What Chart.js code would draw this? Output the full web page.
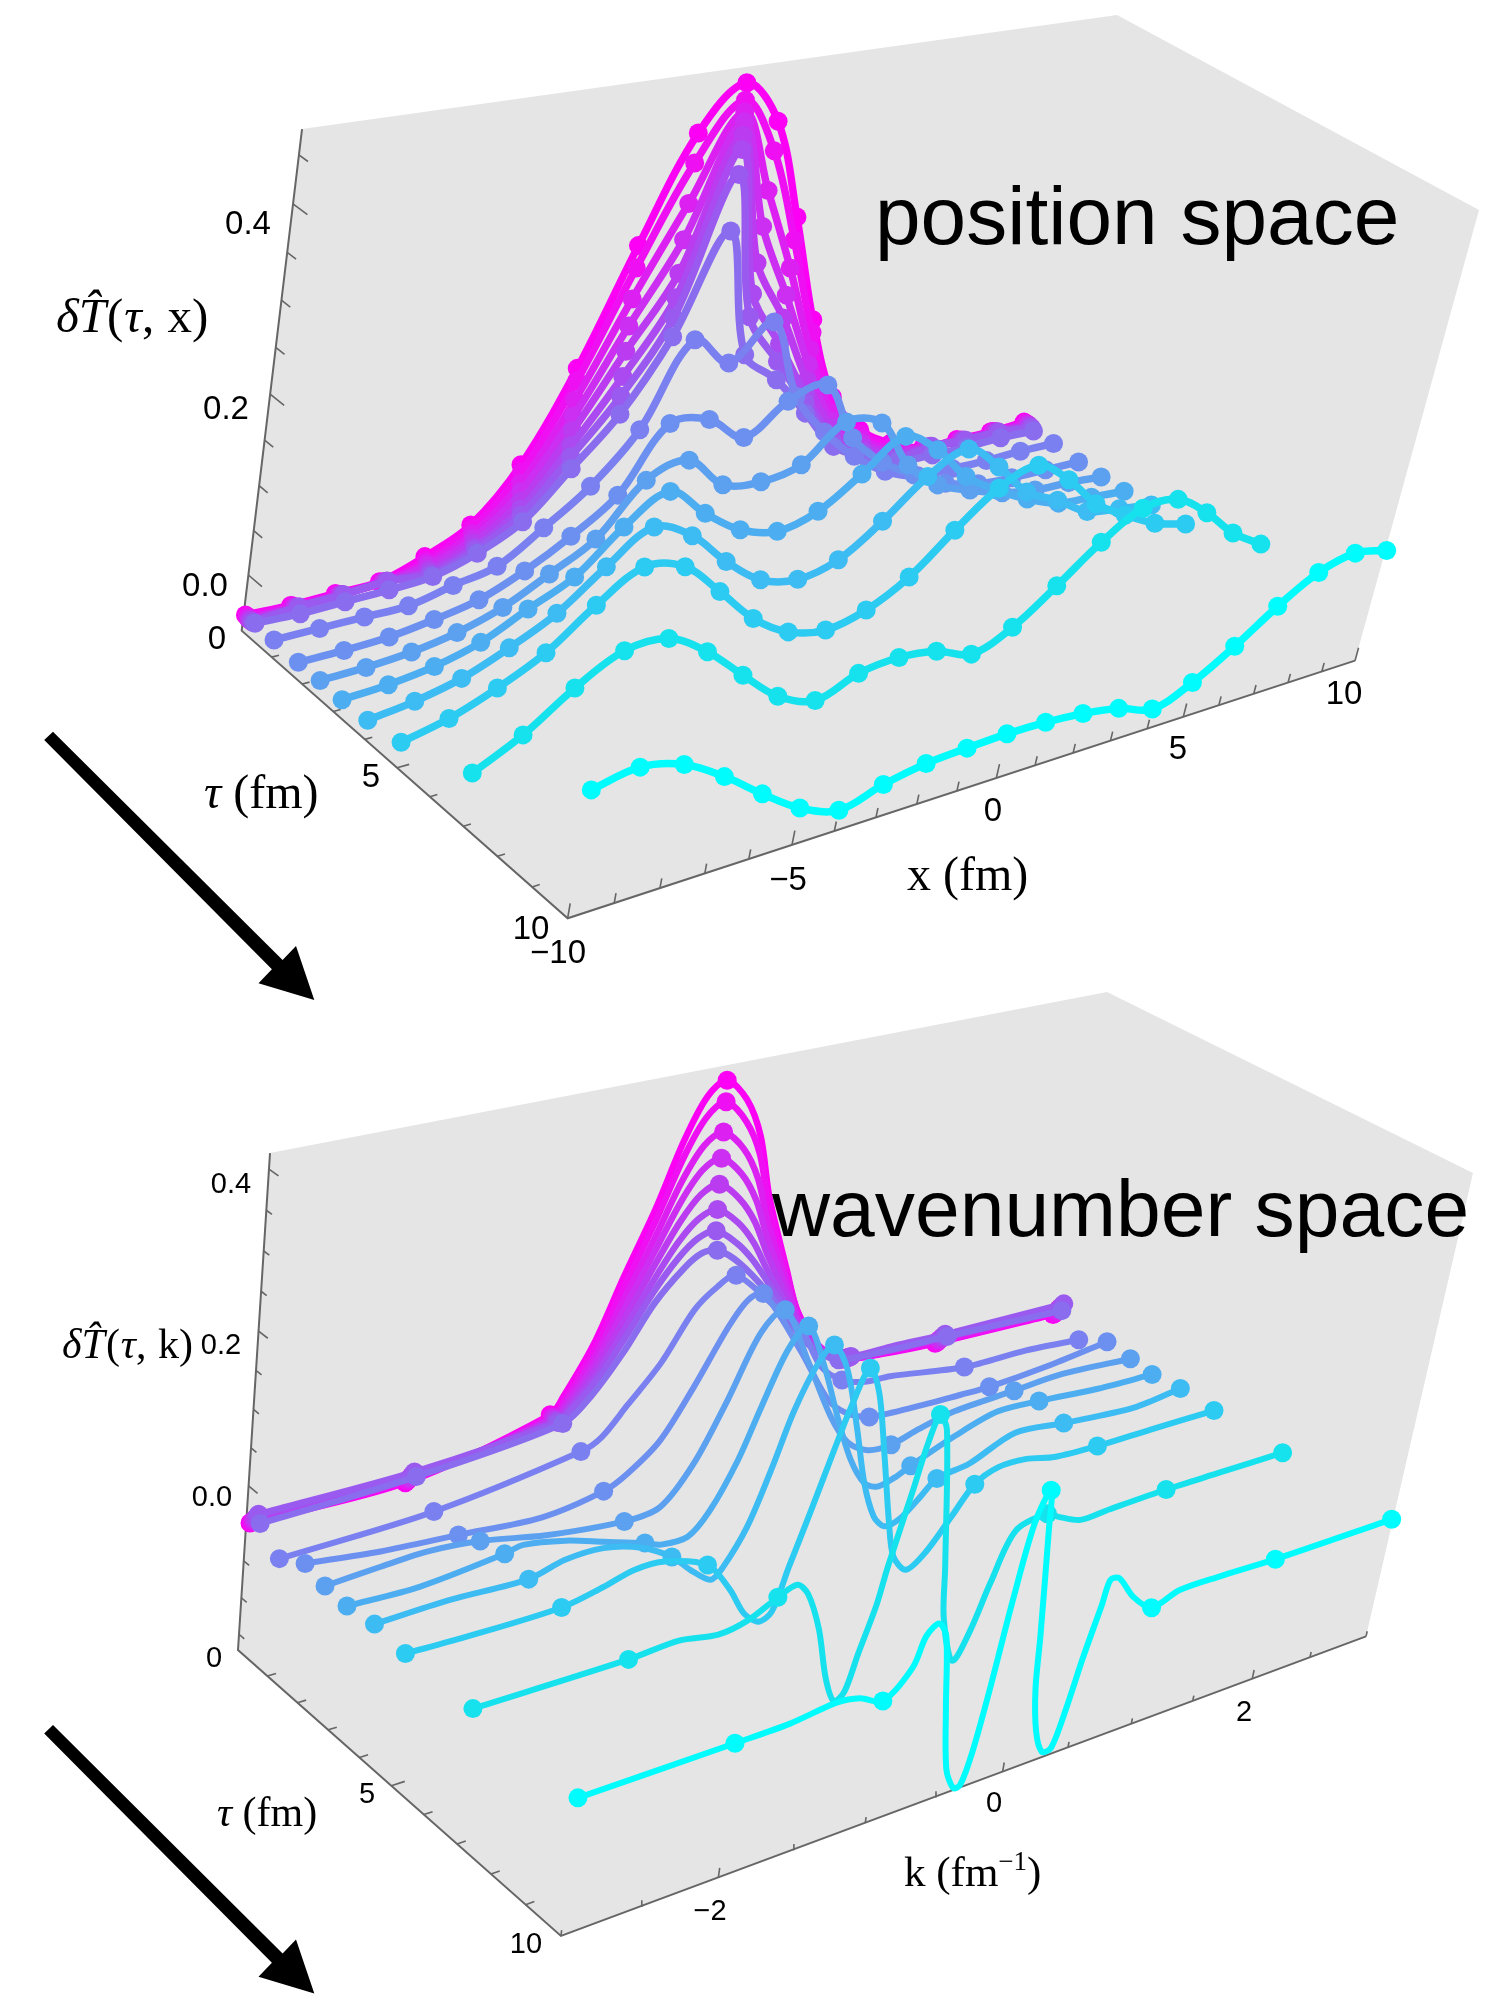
<!DOCTYPE html>
<html>
<head>
<meta charset="utf-8">
<title>position space / wavenumber space</title>
<script src="https://cdn.jsdelivr.net/npm/chart.js@4"></script>
<style>
  html, body { margin: 0; background: #fff; }
  canvas { position: absolute; left: 0; }
</style>
</head>
<body>
<canvas id="posChart" width="1501" height="1006" style="top:0"></canvas>
<canvas id="wavChart" width="1501" height="1008" style="top:986px"></canvas>
<script>
// ---- Data: delta T(tau, x) ----
const tauValues = [0.05, 0.1, 0.14, 0.18, 0.22, 0.26, 0.3, 0.37, 1, 1.8, 2.5, 3.2, 4, 5, 7, 10];
const xGrid = [-10, -9, -8, -7, -6, -5, -4, -3, -2, -1, 0, 1, 2, 3, 4, 5, 6, 7, 8, 9, 10];

const posT0 = [-.044, -.046, -.045, -.044, -.027, -.002, .057, .158, .288, .405, .453, .403, .286, .156, .052, -.000, -.028, -.045, -.045, -.046, -.044];
const posT1 = [-.044, -.045, -.045, -.044, -.030, -.005, .050, .145, .264, .373, .435, .371, .261, .142, .046, -.004, -.029, -.043, -.045, -.044, -.044];
const posT2 = [-.045, -.045, -.044, -.042, -.032, -.010, .038, .124, .230, .329, .423, .327, .229, .122, .034, -.009, -.033, -.042, -.044, -.043, -.044];
const posT3 = [-.045, -.044, -.043, -.040, -.034, -.014, .029, .106, .200, .289, .413, .287, .198, .105, .025, -.013, -.035, -.040, -.042, -.043, -.044];
const posT4 = [-.045, -.043, -.041, -.039, -.037, -.018, .019, .090, .172, .252, .399, .246, .172, .087, .018, -.017, -.037, -.039, -.042, -.041, -.044];
const posT5 = [-.045, -.042, -.040, -.037, -.039, -.022, .011, .074, .144, .225, .384, .211, .142, .071, .009, -.021, -.040, -.037, -.040, -.040, -.045];
const posT6 = [-.045, -.040, -.039, -.036, -.041, -.024, .005, .062, .122, .203, .357, .185, .122, .062, .004, -.024, -.041, -.036, -.039, -.040, -.045];
const posT7 = [-.044, -.046, -.045, -.044, -.041, -.026, -.001, .050, .103, .183, .295, .142, .102, .051, -.001, -.025, -.042, -.045, -.046, -.045, -.047];
const posT8 = [-.044, -.044, -.044, -.044, -.033, -.023, .010, .047, .102, .196, .159, .197, .099, .045, .004, -.026, -.043, -.045, -.046, -.045, -.046];
const posT9 = [-.045, -.045, -.043, -.036, -.026, -.005, .023, .059, .131, .125, .093, .125, .134, .060, .019, -.008, -.030, -.042, -.046, -.047, -.048];
const posT10 = [-.044, -.043, -.039, -.030, -.014, .012, .040, .096, .108, .068, .060, .069, .109, .097, .035, -.001, -.019, -.034, -.042, -.044, -.048];
const posT11 = [-.044, -.041, -.034, -.020, .005, .029, .074, .103, .066, .035, .021, .033, .066, .100, .073, .029, .001, -.022, -.039, -.043, -.047];
const posT12 = [-.042, -.035, -.023, -.002, .024, .064, .097, .075, .033, -.001, -.013, -.002, .032, .074, .096, .063, .021, -.001, -.027, -.035, -.042];
const posT13 = [-.035, -.023, -.003, .023, .063, .093, .081, .040, -.004, -.033, -.044, -.033, -.006, .038, .077, .093, .064, .023, -.003, -.025, -.038];
const posT14 = [-.005, .022, .059, .086, .086, .058, .018, -.020, -.039, -.021, -.016, -.022, -.039, -.020, .017, .057, .086, .085, .057, .020, -.006];
const posT15 = [.074, .083, .071, .043, .009, -.022, -.040, -.026, -.017, -.014, -.012, -.013, -.017, -.025, -.040, -.022, .008, .043, .071, .082, .073];

// ---- Data: delta T(tau, k) ----
const wavK0 = [-2.99, -1.99, -1.02, -.94, -.76, -.60, -.43, -.28, -.15, -.02, .15, .29, .42, .64, .77, .98, 1.20, 1.55, 1.98, 3.01];
const wavT0 = [-.048, -.049, -.006, .015, .080, .164, .247, .334, .387, .404, .372, .318, .231, .119, .056, -.004, -.035, -.044, -.049, -.053];
const wavT1 = [-.045, -.045, -.007, .013, .075, .153, .233, .313, .361, .377, .345, .295, .215, .111, .052, -.005, -.034, -.041, -.046, -.049];
const wavT2 = [-.042, -.041, -.007, .011, .067, .138, .212, .283, .325, .338, .309, .263, .194, .100, .046, -.006, -.032, -.038, -.042, -.045];
const wavT3 = [-.039, -.038, -.007, .008, .060, .125, .194, .256, .293, .304, .276, .234, .175, .090, .041, -.007, -.030, -.035, -.039, -.041];
const wavT4 = [-.036, -.034, -.008, .006, .053, .112, .176, .229, .261, .270, .243, .206, .156, .080, .035, -.008, -.028, -.032, -.035, -.037];
const wavT5 = [-.032, -.030, -.008, .004, .046, .099, .158, .204, .230, .237, .212, .179, .137, .070, .030, -.009, -.026, -.029, -.032, -.033];
const wavT6 = [-.028, -.026, -.009, .002, .040, .088, .143, .182, .204, .209, .185, .156, .122, .062, .026, -.009, -.024, -.025, -.028, -.029];
const wavK7 = [-2.99, -1.99, -1.00, -.82, -.62, -.43, -.24, -.12, -.01, .17, .43, .74, .90, 1.08, 1.51, 1.98, 2.98];
const wavT7 = [-.038, -.030, -.009, .019, .070, .130, .170, .185, .184, .159, .105, .029, -.001, -.021, -.027, -.029, -.036];
const wavK8 = [-2.98, -1.99, -1.00, -.86, -.70, -.49, -.29, -.14, -.01, .29, .56, .76, .95, 1.14, 1.35, 1.98, 2.51, 2.98];
const wavT8 = [-.064, -.057, -.028, -.015, .021, .069, .133, .158, .168, .116, .066, .004, -.025, -.037, -.039, -.056, -.056, -.062];
const wavK9 = [-2.98, -2.50, -1.99, -1.42, -1.00, -.84, -.63, -.43, -.23, -.11, -.00, .35, .63, .80, .99, 1.33, 1.74, 1.98, 2.50, 2.98];
const wavT9 = [-.043, -.055, -.062, -.070, -.057, -.041, -.006, .058, .131, .162, .166, .071, -.013, -.041, -.056, -.060, -.061, -.061, -.053, -.041];
const wavK10 = [-2.99, -2.64, -2.35, -2.00, -1.55, -1.00, -.75, -.54, -.35, -.17, -.01, .22, .47, .64, .81, 1.00, 1.21, 1.49, 1.98, 2.38, 2.99];
const wavT10 = [-.048, -.043, -.040, -.046, -.064, -.076, -.070, -.020, .058, .141, .165, .085, -.007, -.053, -.073, -.075, -.063, -.051, -.045, -.040, -.046];
const wavK11 = [-2.99, -2.53, -1.99, -1.87, -1.58, -1.31, -1.01, -.89, -.70, -.56, -.40, -.28, -.14, -.01, .16, .33, .48, .62, .73, .86, .98, 1.31, 1.64, 1.99, 2.50, 2.98];
const wavT11 = [-.050, -.052, -.040, -.035, -.046, -.063, -.082, -.091, -.091, -.062, -.000, .067, .138, .164, .100, .018, -.047, -.088, -.099, -.093, -.082, -.056, -.037, -.039, -.046, -.048];
const wavK12 = [-2.98, -2.51, -2.00, -1.77, -1.51, -1.24, -1.01, -.86, -.70, -.62, -.48, -.36, -.25, -.12, -.02, .11, .26, .38, .50, .60, .72, .86, .97, 1.22, 1.57, 1.98, 2.59, 2.99];
const wavT12 = [-.046, -.043, -.046, -.034, -.033, -.048, -.074, -.101, -.124, -.111, -.062, .010, .086, .144, .163, .123, .032, -.048, -.103, -.123, -.118, -.094, -.074, -.066, -.039, -.046, -.054, -.045];
const wavK13 = [-2.99, -2.62, -2.00, -1.73, -1.53, -1.32, -1.01, -.82, -.69, -.57, -.48, -.40, -.30, -.19, -.11, -.01, .09, .21, .33, .41, .53, .67, .83, .98, 1.15, 1.38, 1.62, 1.98, 2.44, 2.99];
const wavT13 = [-.048, -.050, -.049, -.038, -.027, -.028, -.051, -.096, -.137, -.156, -.147, -.089, -.020, .060, .115, .162, .123, .030, -.069, -.122, -.148, -.130, -.089, -.050, -.035, -.035, -.045, -.048, -.047, -.047];
const wavK14 = [-2.99, -2.01, -1.68, -1.41, -1.21, -1.02, -.89, -.80, -.68, -.57, -.48, -.41, -.35, -.27, -.23, -.13, -.08, -.02, .05, .22, .28, .41, .51, .61, .74, .98, 1.08, 1.27, 1.50, 1.97, 2.43, 2.98];
const wavT14 = [-.046, -.046, -.042, -.051, -.044, -.025, -.016, -.034, -.089, -.164, -.202, -.193, -.143, -.081, -.030, .072, .126, .163, .139, -.057, -.133, -.202, -.167, -.103, -.037, -.026, -.036, -.051, -.049, -.046, -.046, -.046];
const wavK15 = [-3.00, -2.02, -1.66, -1.35, -1.19, -1.02, -.84, -.78, -.70, -.63, -.54, -.45, -.37, -.32, -.27, -.22, -.17, -.11, -.03, .01, .10, .14, .21, .29, .36, .42, .48, .55, .58, .65, .80, .97, 1.18, 1.50, 1.97, 2.98];
const wavT15 = [-.045, -.044, -.043, -.036, -.041, -.056, -.023, .014, .026, .005, -.094, -.187, -.219, -.218, -.175, -.087, .024, .122, .161, .106, -.041, -.115, -.179, -.214, -.213, -.163, -.093, -.025, .007, .005, -.030, -.055, -.043, -.043, -.046, -.046];

// which samples of each wavenumber curve carry a dot (the integer k)
const dotsBundle = [0, 1, 2, 9, 16, 18, 19];
const dotsK7 = [0, 1, 2, 8, 13, 15, 16];
const dotsK8 = [0, 1, 2, 8, 12, 15, 17];
const dotsK9 = [0, 2, 4, 10, 14, 17, 19];
const dotsK10 = [0, 3, 5, 10, 15, 18, 20];
const dotsK11 = [0, 2, 6, 13, 20, 23, 25];
const dotsK12 = [0, 2, 6, 14, 22, 25, 27];
const dotsK13 = [0, 2, 6, 15, 23, 27, 29];
const dotsK14 = [0, 1, 5, 17, 25, 29, 31];
const dotsK15 = [0, 1, 5, 18, 31, 34, 35];

const curveColors = ['#fb00f5', '#ee10f3', '#dc20f2', '#cc2ef2', '#bb3cf0', '#aa4af0', '#9a5af0', '#8a6cee',
  '#7a80f0', '#6c90f0', '#5ca0f0', '#4caef0', '#3cbcf2', '#2ccbf2', '#16e2ee', '#00fcfc'];

const posCurves = [posT0, posT1, posT2, posT3, posT4, posT5, posT6, posT7, posT8, posT9, posT10, posT11, posT12, posT13, posT14, posT15];
const wavCurves = [
  [wavK0, wavT0, dotsBundle], [wavK0, wavT1, dotsBundle], [wavK0, wavT2, dotsBundle], [wavK0, wavT3, dotsBundle],
  [wavK0, wavT4, dotsBundle], [wavK0, wavT5, dotsBundle], [wavK0, wavT6, dotsBundle], [wavK7, wavT7, dotsK7],
  [wavK8, wavT8, dotsK8], [wavK9, wavT9, dotsK9], [wavK10, wavT10, dotsK10], [wavK11, wavT11, dotsK11],
  [wavK12, wavT12, dotsK12], [wavK13, wavT13, dotsK13], [wavK14, wavT14, dotsK14], [wavK15, wavT15, dotsK15]
];

// ---- 3D box -> page, homogeneous projection of each panel ----
const posBox = {
  o: [241.7, 630.7, 1], ex: [958.6, -117.2, .1779], ey: [275.6, 206.1, -.0887], ez: [40.76, -510, -.0648],
  w0: .1178, ws: 1.853, hMin: -10, hSpan: 20, lean: 5.5
};
const wavBox = {
  o: [238, 1650, 1], ex: [993.5, 47.4, .1945], ey: [269.1, 100.1, -.096], ez: [13.48, -576, -.0686],
  w0: .346, ws: 1.56, hMin: -3, hSpan: 6, lean: 2.5
};

function project(box, u, v, w, lean = 0) {
  const c = i => box.o[i] + u * box.ex[i] + v * box.ey[i] + w * box.ez[i];
  return { x: (c(0) + lean * w) / c(2), y: c(1) / c(2) };
}
function place(box, h, tau, T) {
  return project(box, (h - box.hMin) / box.hSpan, tau / 10, box.w0 + box.ws * T, box.lean);
}

// frame and ticks of one panel, as gray line datasets
function frameDatasets(box, tTicks, tMajor, hTicks, hMajor, len) {
  const gap = { x: null, y: null };
  const ticks = [];
  tTicks.forEach(T => {
    const w = box.w0 + box.ws * T;
    ticks.push(project(box, 0, 0, w), project(box, 0, tMajor.includes(T) ? len.tBig : len.t, w), gap);
  });
  for (let t = 1; t < 10; t++) {
    ticks.push(project(box, 0, t / 10, 0), project(box, t === 5 ? len.tauBig : len.tau, t / 10, 0), gap);
  }
  hTicks.forEach(h => {
    const u = (h - box.hMin) / box.hSpan;
    ticks.push(project(box, u, 1, 0), project(box, u, 1, hMajor.includes(h) ? len.hBig : len.h), gap);
  });
  const base = { type: 'scatter', showLine: true, borderColor: '#666', pointRadius: 0, tension: 0, clip: false, order: 200 };
  return [
    { ...base, borderWidth: 2, data: [project(box, 0, 0, 1), project(box, 0, 0, 0), project(box, 0, 1, 0), project(box, 1, 1, 0)] },
    { ...base, borderWidth: 1.6, spanGaps: false, data: ticks }
  ];
}

function drawRuns(ctx, x, y, runs) {
  ctx.textAlign = 'left';
  ctx.textBaseline = 'alphabetic';
  runs.forEach(r => {
    ctx.font = r.font;
    ctx.fillText(r.text, x, y + (r.dy || 0));
    x += ctx.measureText(r.text).width + (r.gap || 0);
  });
}

function sideLabel(ctx, x, y, size, last) {
  const it = `italic ${size}px "Liberation Serif"`, up = `${size}px "Liberation Serif"`;
  drawRuns(ctx, x, y, [
    { text: 'δ', font: it }, { text: 'T\u0302', font: it, gap: 1 }, { text: '(', font: up, gap: 1 },
    { text: 'τ', font: it }, { text: ', ', font: up, gap: 1 }, { text: last + ')', font: up }
  ]);
}

function tauLabel(ctx, x, y, size) {
  drawRuns(ctx, x, y, [
    { text: 'τ', font: `italic ${size}px "Liberation Serif"` },
    { text: ' (fm)', font: `${size}px "Liberation Serif"` }
  ]);
}

// overlay: gray wall, arrow, all the text
function panelPlugin(wall, arrowDy, drawText) {
  return {
    id: 'panel',
    beforeDatasetsDraw(chart) {
      const ctx = chart.ctx, sx = chart.scales.x, sy = chart.scales.y;
      const path = pts => {
        ctx.beginPath();
        pts.forEach((p, i) => ctx[i ? 'lineTo' : 'moveTo'](sx.getPixelForValue(p[0]), sy.getPixelForValue(p[1])));
        ctx.closePath();
      };
      ctx.save();
      ctx.fillStyle = '#e5e5e5';
      path(wall);
      ctx.fill();
      ctx.fillStyle = '#000';
      path([[53, 731.7], [282.6, 960], [296, 946], [314.3, 1000], [258.5, 983.3], [271.9, 969.3], [44.2, 740]]
        .map(p => [p[0], p[1] + arrowDy]));
      ctx.fill();
      ctx.restore();
    },
    afterDatasetsDraw(chart) {
      const ctx = chart.ctx, top = chart.scales.y.min;
      ctx.save();
      ctx.translate(0, -top);
      ctx.fillStyle = '#000';
      drawText(ctx);
      ctx.restore();
    }
  };
}

function tickText(ctx, size, items) {
  ctx.font = `${size}px "Liberation Sans"`;
  ctx.textAlign = 'center';
  ctx.textBaseline = 'middle';
  items.forEach(t => ctx.fillText(t[0], t[1], t[2]));
}

function curveDatasets(box, tension, width, radius, rows) {
  return rows.map((r, i) => ({
    type: 'scatter',
    showLine: true,
    data: r.h.map((h, j) => place(box, h, tauValues[i], r.T[j])),
    borderColor: curveColors[i],
    backgroundColor: curveColors[i],
    borderWidth: width(i),
    borderCapStyle: 'round',
    borderJoinStyle: 'round',
    pointBorderWidth: 0,
    pointRadius: r.dots ? r.h.map((_, j) => (r.dots.includes(j) ? radius : 0)) : radius,
    tension,
    clip: false,
    order: 100 - i
  }));
}

function buildChart(id, top, height, datasets, plugin) {
  return new Chart(document.getElementById(id), {
    type: 'scatter',
    data: { datasets },
    plugins: [plugin],
    options: {
      responsive: false,
      animation: false,
      layout: { padding: 0, autoPadding: false },
      events: [],
      plugins: { legend: { display: false }, tooltip: { enabled: false } },
      scales: {
        x: { type: 'linear', min: 0, max: 1501, display: false },
        y: { type: 'linear', min: top, max: top + height, reverse: true, display: false }
      }
    }
  });
}

// ---- Position space ----
const posTTicks = [-.05, 0, .05, .1, .15, .2, .25, .3, .35, .4, .45];
buildChart('posChart', 0, 1006, [
  ...frameDatasets(posBox, posTTicks, [0, .2, .4], xGrid, [-10, -5, 0, 5, 10],
    { t: .028, tBig: .045, tau: .008, tauBig: .013, h: .02, hBig: .03 }),
  ...curveDatasets(posBox, .35, () => 7.5, 9.5, posCurves.map(T => ({ h: xGrid, T })))
], panelPlugin([[302, 129], [1117, 15], [1479, 210], [1355, 660.7], [567.7, 918.3], [241.7, 630.7]], 0, ctx => {
  tickText(ctx, 33, [['0.4', 248, 225], ['0.2', 226, 410], ['0.0', 205, 587], ['0', 217, 640], ['5', 371, 778], ['10', 531, 930],
    ['\u221210', 558, 954], ['\u22125', 788, 881], ['0', 993, 812], ['5', 1178, 750], ['10', 1344, 695]]);
  ctx.font = '82px "Liberation Sans"';
  ctx.textAlign = 'left';
  ctx.textBaseline = 'alphabetic';
  ctx.fillText('position space', 875, 244);
  sideLabel(ctx, 56, 332, 49, 'x');
  tauLabel(ctx, 204, 808, 48);
  drawRuns(ctx, 907, 890, [{ text: 'x (fm)', font: '48px "Liberation Serif"' }]);
}));

// ---- Wavenumber space ----
const wavTTicks = [-.2, -.15, -.1, -.05, 0, .05, .1, .15, .2, .25, .3, .35, .4];
const wavHTicks = [-3, -2.5, -2, -1.5, -1, -.5, 0, .5, 1, 1.5, 2, 2.5, 3];
buildChart('wavChart', 986, 1008, [
  ...frameDatasets(wavBox, wavTTicks, [0, .2, .4], wavHTicks, [-2, 0, 2],
    { t: .018, tBig: .03, tau: .009, tauBig: .014, h: .012, hBig: .02 }),
  ...curveDatasets(wavBox, .3, i => (i < 8 ? 6.5 : 6), 9.5, wavCurves.map(r => ({ h: r[0], T: r[1], dots: r[2] })))
], panelPlugin([[270, 1153], [1107, 992], [1473, 1173], [1366, 1636.4], [561, 1936], [238, 1650]], 993.4, ctx => {
  tickText(ctx, 29, [['0.4', 231, 1185], ['0.2', 221, 1346], ['0.0', 212, 1498], ['0', 214, 1659], ['5', 367, 1795], ['10', 526, 1945],
    ['\u22122', 710, 1912], ['0', 994, 1804], ['2', 1244, 1713]]);
  ctx.font = '80.4px "Liberation Sans"';
  ctx.textAlign = 'left';
  ctx.textBaseline = 'alphabetic';
  ctx.fillText('wavenumber space', 772, 1236);
  sideLabel(ctx, 62, 1358, 42, 'k');
  tauLabel(ctx, 217, 1826, 42);
  drawRuns(ctx, 904, 1886, [
    { text: 'k (fm', font: '43px "Liberation Serif"' },
    { text: '\u22121', font: '27px "Liberation Serif"', dy: -16 },
    { text: ')', font: '43px "Liberation Serif"' }
  ]);
}));
</script>
</body>
</html>
